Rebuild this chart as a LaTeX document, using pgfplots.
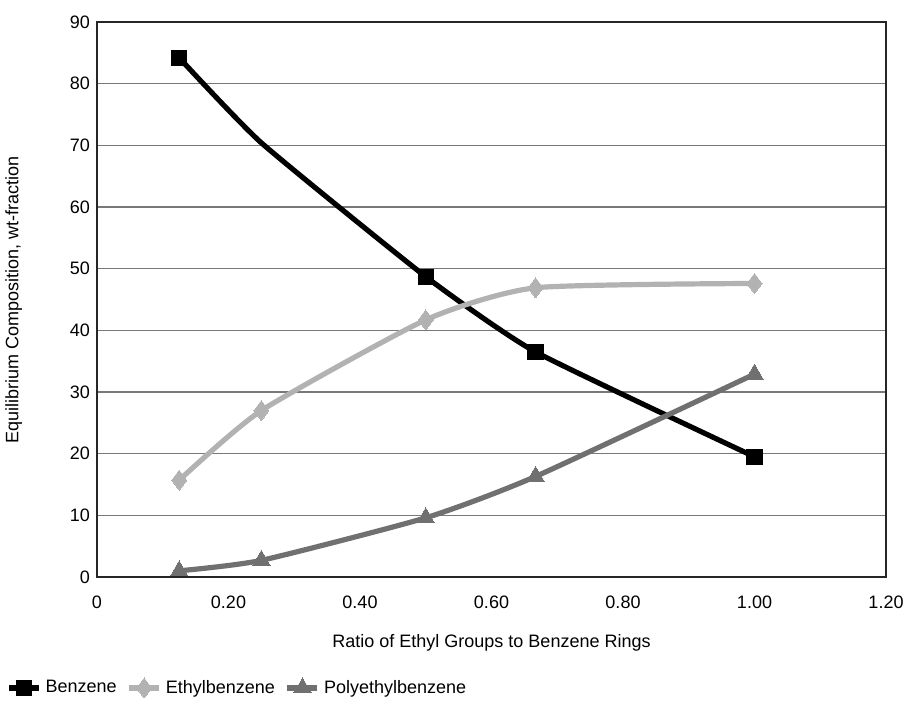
\documentclass[border=0pt]{standalone}
\usepackage{pgfplots}
\pgfplotsset{compat=1.18}
\usepackage{fontspec}
\setmainfont{Liberation Sans}
\definecolor{ebgray}{RGB}{178,178,178}
\definecolor{pgray}{RGB}{112,112,112}
\definecolor{gridgray}{RGB}{120,120,120}
\begin{document}
\begin{tikzpicture}
\path[use as bounding box] (-48.5pt,-72pt) rectangle (405.5pt,288.5pt);
\begin{axis}[
  at={(0,0)}, anchor=south west,
  width=394.5pt, height=277.5pt, scale only axis,
  xmin=0, xmax=1.2, ymin=0, ymax=90,
  xtick={0,0.2,0.4,0.6,0.8,1.0,1.2},
  xticklabels={0,0.20,0.40,0.60,0.80,1.00,1.20},
  ytick={0,10,...,90},
  ymajorgrids, major grid style={gridgray, line width=0.6pt},
  axis line style={black!85, line width=0.8pt},
  tick style={draw=none},
  font=\fontsize{9}{11}\selectfont,
  tick label style={font=\fontsize{9}{11}\selectfont},
  /pgf/number format/assume math mode=true,
  xticklabel style={yshift=-6pt},
  xlabel={Ratio of Ethyl Groups to Benzene Rings},
  ylabel={Equilibrium Composition, wt-fraction},
  xlabel style={yshift=-6pt},
  ylabel style={yshift=17pt},
  legend style={draw=none, fill=none, at={(-0.123,-0.2)}, anchor=west,
    legend columns=3, font=\fontsize{9}{11}\selectfont,
    /tikz/every even column/.append style={column sep=3pt}},
  legend image code/.code={
    \draw[#1, mark indices={2}] plot coordinates {(0pt,0pt) (7.5pt,0pt) (15pt,0pt)};
  },
]
\addplot[black, line width=2.6pt, smooth, tension=0.3, mark=square*, mark size=3.8pt, mark indices={1,3,4,5}, mark options={solid, line width=0pt}]
  coordinates {(0.125,84.2) (0.25,70.4) (0.5,48.7) (0.667,36.5) (1.0,19.5)};
\addlegendentry{Benzene}
\addplot[ebgray, line width=2.6pt, smooth, tension=0.35, mark=diamond*, mark size=5pt, mark options={solid, line width=0pt}]
  coordinates {(0.125,15.7) (0.25,27.0) (0.5,41.7) (0.667,46.9) (1.0,47.6)};
\addlegendentry{Ethylbenzene}
\addplot[pgray, line width=2.6pt, smooth, tension=0.35, mark=triangle*, mark size=5pt, mark options={solid, line width=0pt}]
  coordinates {(0.125,1.0) (0.25,2.7) (0.5,9.6) (0.667,16.3) (1.0,32.9)};
\addlegendentry{Polyethylbenzene}
\end{axis}
\end{tikzpicture}
\end{document}
